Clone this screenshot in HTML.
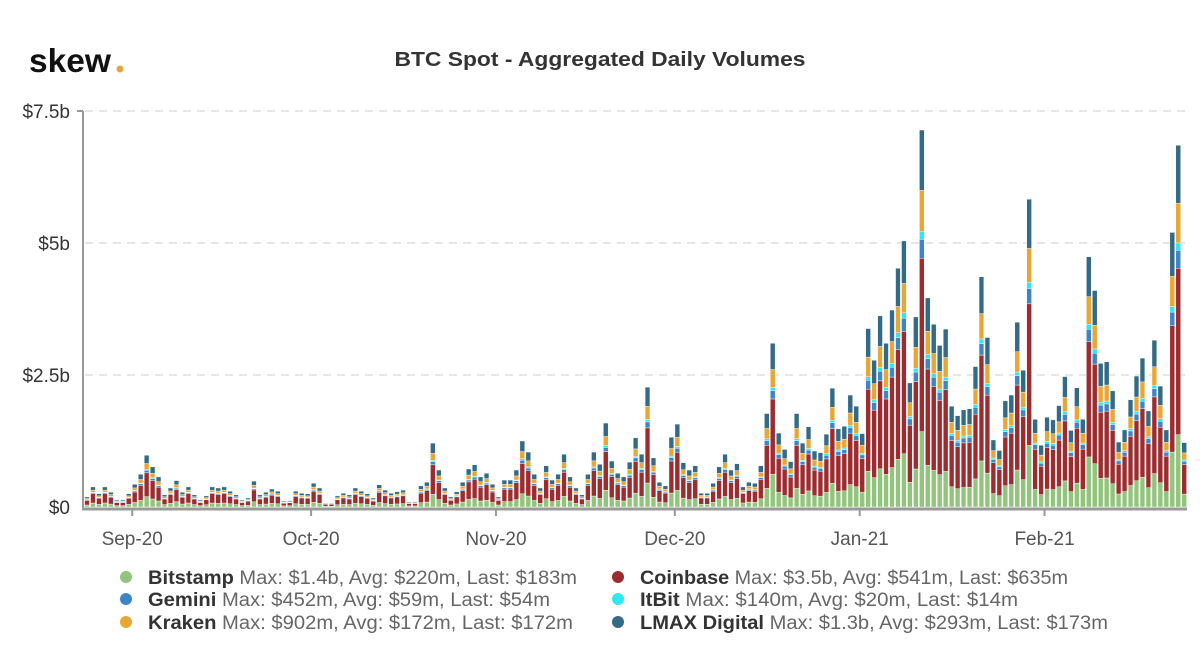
<!DOCTYPE html>
<html><head><meta charset="utf-8"><style>
html,body{margin:0;padding:0;background:#fff;}
svg{display:block;font-family:"Liberation Sans",sans-serif;}
</style></head><body>
<svg id="chart" width="1200" height="670" viewBox="0 0 1200 670" xmlns="http://www.w3.org/2000/svg">
<text x="29" y="72" font-size="33" font-weight="bold" fill="#111" textLength="82" lengthAdjust="spacingAndGlyphs">skew</text>
<circle cx="120" cy="69" r="3.5" fill="#e8a735"/>
<text x="600" y="66" text-anchor="middle" font-size="20" font-weight="bold" fill="#333" textLength="411" lengthAdjust="spacingAndGlyphs">BTC Spot - Aggregated Daily Volumes</text>
<g id="grid"></g>
<g id="bars"></g>
<g id="axes"></g>
<g id="legend"></g>
</svg>
<script>
const totals = [0.19,0.38,0.25,0.38,0.28,0.13,0.13,0.25,0.43,0.62,0.98,0.76,0.57,0.23,0.36,0.50,0.28,0.38,0.23,0.13,0.21,0.38,0.36,0.38,0.30,0.23,0.13,0.17,0.49,0.23,0.28,0.34,0.30,0.11,0.12,0.30,0.26,0.25,0.45,0.36,0.08,0.08,0.21,0.26,0.23,0.36,0.30,0.25,0.17,0.42,
0.32,0.26,0.29,0.32,0.10,0.10,0.40,0.47,1.21,0.70,0.36,0.19,0.29,0.47,0.72,0.80,0.57,0.64,0.43,0.19,0.51,0.51,0.70,1.25,1.04,0.62,0.36,0.78,0.51,0.62,1.00,0.57,0.36,0.23,0.62,1.04,0.81,1.59,0.87,0.64,0.57,0.85,1.31,1.00,2.27,0.93,0.47,0.40,
1.32,1.57,0.84,0.70,0.78,0.26,0.26,0.45,0.76,1.00,0.70,0.82,0.38,0.47,0.45,0.78,1.77,3.10,1.40,1.09,0.86,1.77,1.21,1.52,1.06,1.03,1.38,2.25,1.48,1.53,2.12,1.91,1.39,3.38,2.78,3.62,3.10,3.73,4.52,5.04,2.35,3.60,
7.14,3.96,3.46,3.06,3.37,1.91,1.73,1.84,1.86,2.66,4.36,3.21,1.27,1.07,2.01,2.12,3.50,2.59,5.83,1.66,1.17,1.70,1.65,1.92,2.47,1.45,2.26,1.66,4.74,4.10,2.72,2.75,2.20,1.23,1.46,2.03,2.48,2.82,1.82,3.16,2.29,1.46,5.20,6.85,1.22];
const seriesNames = ["Bitstamp","Coinbase","Gemini","ItBit","Kraken","LMAX Digital"];
const seriesShares = [0.20,0.46,0.05,0.02,0.11,0.16];
const seriesColors = ["#93c47d","#9b2d30","#3d85c6","#2ee8f0","#e8a735","#336b87"];
const legendStats = ["Max: $1.4b, Avg: $220m, Last: $183m","Max: $3.5b, Avg: $541m, Last: $635m","Max: $452m, Avg: $59m, Last: $54m","Max: $140m, Avg: $20m, Last: $14m","Max: $902m, Avg: $172m, Last: $172m","Max: $1.3b, Avg: $293m, Last: $173m"];
const legendWidths = [429,428,402,378,425,468];
const yTicks = [0,2.5,5,7.5];
const yTickLabels = ["$0","$2.5b","$5b","$7.5b"];
const monthTickIdx = [8,38,69,99,130,161];
const monthLabels = ["Sep-20","Oct-20","Nov-20","Dec-20","Jan-21","Feb-21"];

const NS="http://www.w3.org/2000/svg";
function mk(tag,attrs,parent){const e=document.createElementNS(NS,tag);for(const k in attrs)e.setAttribute(k,attrs[k]);parent.appendChild(e);return e;}
const x0=87, step=5.963, yBase=507, pxPerB=52.8;
const xScale=i=>x0+i*step;
const yScale=v=>yBase-v*pxPerB;
const grid=document.getElementById('grid'), bars=document.getElementById('bars'), axes=document.getElementById('axes'), legend=document.getElementById('legend');

yTicks.forEach((t,i)=>{
  if(t>0){const g=mk('line',{x1:85,x2:1186,y1:yScale(t),y2:yScale(t),stroke:'#e6e6e6','stroke-width':2,'stroke-dasharray':'8,6'},grid);
  
  }
  const l=mk('text',{x:70,y:yScale(t)+7,'text-anchor':'end','font-size':19,fill:'#333'},axes);
  l.textContent=yTickLabels[i];
  
  
});

totals.forEach((tot,i)=>{
  let acc=0;
  seriesShares.forEach((s,k)=>{
    const v=tot*s;
    const r=mk('rect',{x:xScale(i)-2.4,y:yScale(acc+v),width:4.8,height:Math.max(0,v*pxPerB),fill:seriesColors[k],stroke:'#fff','stroke-width':0.4},bars);
    
    
    acc+=v;
  });
});

const ax=mk('line',{x1:83,x2:83,y1:111,y2:509,stroke:'#999','stroke-width':2},axes);


const tk=mk('line',{x1:77,x2:83,y1:111,y2:111,stroke:'#999','stroke-width':2},axes);


const bx=mk('line',{x1:82,x2:1187,y1:509,y2:509,stroke:'#999','stroke-width':3},axes);


monthTickIdx.forEach((idx,i)=>{
  const tx=xScale(idx)-2.5;
  const t=mk('line',{x1:tx,x2:tx,y1:509,y2:516,stroke:'#999','stroke-width':2},axes);
  
  
  const l=mk('text',{x:tx,y:545,'text-anchor':'middle','font-size':19,fill:'#555'},axes);
  l.textContent=monthLabels[i];
  
  
});

const legPos=[[126,577],[618,577],[126,599],[618,599],[126,622],[618,622]];
const legOrder=[0,1,2,3,4,5];
legOrder.forEach((k,i)=>{
  const [lx,ly]=legPos[i];
  const g=mk('g',{},legend);
  
  
  mk('circle',{cx:lx,cy:ly,r:6,fill:seriesColors[k]},g);
  const t=mk('text',{x:lx+22,y:ly+7,'font-size':19,fill:'#666',textLength:legendWidths[k],lengthAdjust:'spacingAndGlyphs'},g);
  const b=mk('tspan',{'font-weight':'bold',fill:'#333'},t);
  b.textContent=seriesNames[k];
  const s=mk('tspan',{},t);
  s.textContent=' '+legendStats[k];
});
</script>
</body></html>
